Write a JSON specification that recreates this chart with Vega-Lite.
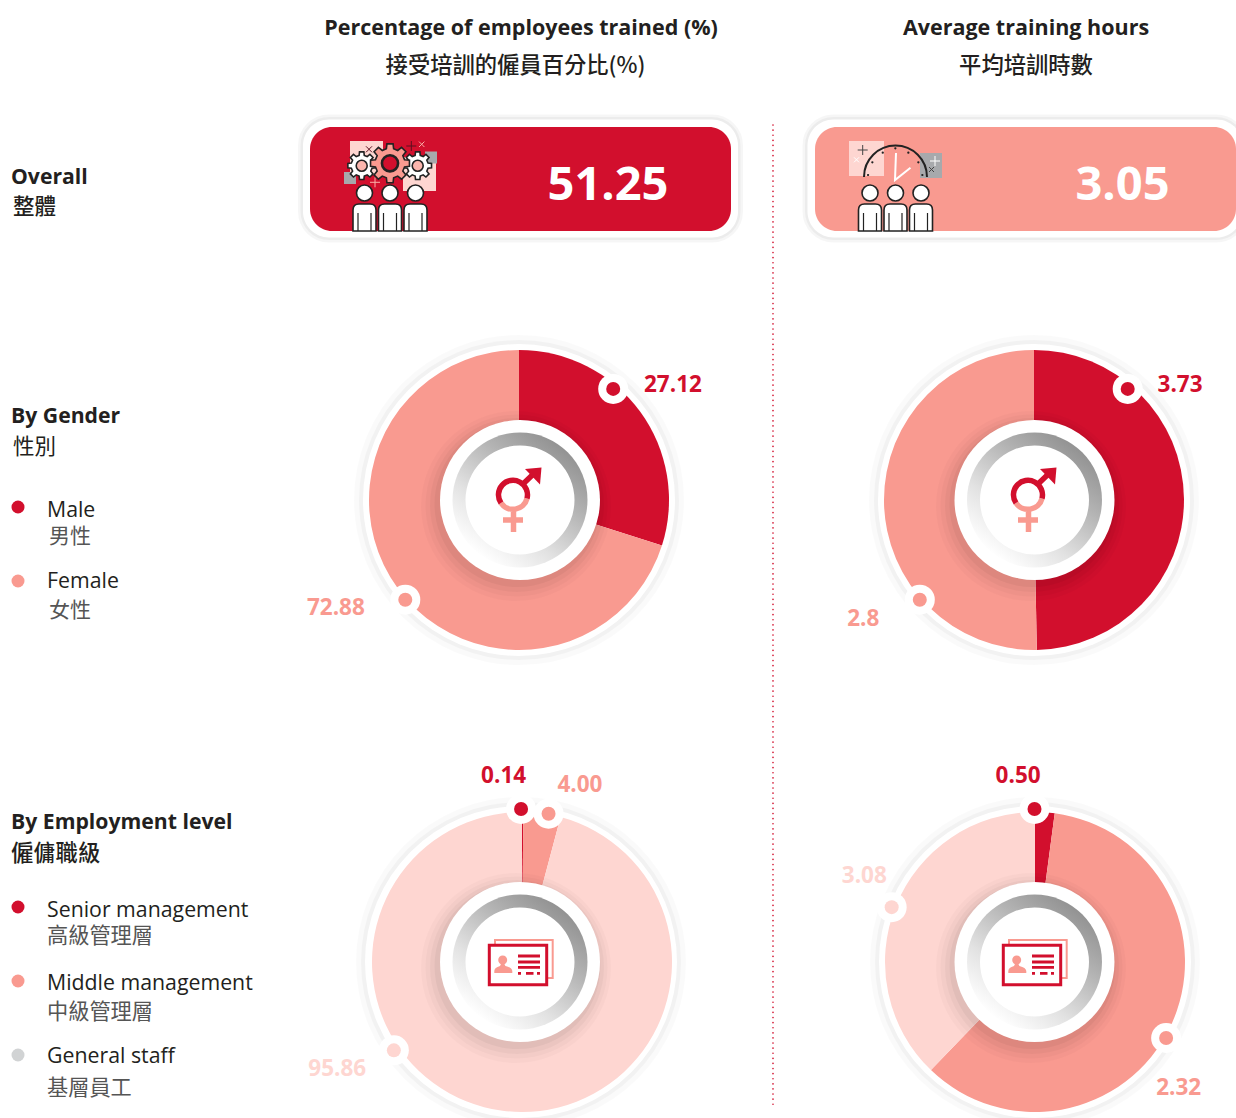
{"$schema":"https://vega.github.io/schema/vega-lite/v6.json","width":1236,"height":1118,"padding":0,"autosize":{"type":"none"},"background":"white","config":{"view":{"stroke":null},"scale":{"pointPadding":0},"point":{"opacity":1},"text":{"font":"Open Sans, Noto Sans CJK TC"}},
"datasets":{
"segments":[
{"metric":"trained","breakdown":"By Gender","segment":"Male","value":"27.12","share":29.9,"rank":1,"pinAngle":40,"pinReach":145,"labelAngle":52.8,"labelReach":192},
{"metric":"trained","breakdown":"By Gender","segment":"Female","value":"72.88","share":70.1,"rank":2,"pinAngle":229,"pinReach":152,"labelAngle":239.8,"labelReach":213},
{"metric":"hours","breakdown":"By Gender","segment":"Male","value":"3.73","share":49.7,"rank":1,"pinAngle":40,"pinReach":145,"labelAngle":51.5,"labelReach":186},
{"metric":"hours","breakdown":"By Gender","segment":"Female","value":"2.8","share":50.3,"rank":2,"pinAngle":229,"pinReach":152,"labelAngle":235.4,"labelReach":208},
{"metric":"trained","breakdown":"By Employment level","segment":"Senior management","value":"0.14","share":0.14,"rank":1,"pinAngle":0.4,"pinReach":153,"labelAngle":355,"labelReach":188},
{"metric":"trained","breakdown":"By Employment level","segment":"Middle management","value":"4.00","share":4.0,"rank":2,"pinAngle":10.9,"pinReach":151,"labelAngle":18.6,"labelReach":188},
{"metric":"trained","breakdown":"By Employment level","segment":"General staff","value":"95.86","share":95.86,"rank":3,"pinAngle":235,"pinReach":154,"labelAngle":240,"labelReach":211},
{"metric":"hours","breakdown":"By Employment level","segment":"Senior management","value":"0.50","share":2.1,"rank":1,"pinAngle":0,"pinReach":153,"labelAngle":355,"labelReach":188},
{"metric":"hours","breakdown":"By Employment level","segment":"Middle management","value":"2.32","share":60.1,"rank":2,"pinAngle":120,"pinReach":152,"labelAngle":131,"labelReach":191},
{"metric":"hours","breakdown":"By Employment level","segment":"General staff","value":"3.08","share":37.8,"rank":3,"pinAngle":291,"pinReach":153,"labelAngle":297,"labelReach":191}],
"hubs":[{"metric":"trained","breakdown":"By Gender"},{"metric":"hours","breakdown":"By Gender"},{"metric":"trained","breakdown":"By Employment level"},{"metric":"hours","breakdown":"By Employment level"}],
"overall":[{"metric":"trained","value":"51.25"},{"metric":"hours","value":"3.05"}],
"legendGender":[{"block":"gender","segment":"Male","zh":"男性"},{"block":"gender","segment":"Female","zh":"女性"}],
"legendLevel":[{"block":"level","segment":"Senior management","zh":"高級管理層"},{"block":"level","segment":"Middle management","zh":"中級管理層"},{"block":"level","segment":"General staff","zh":"基層員工"}]
},
"resolve":{"scale":{"x":"independent","y":"independent","fill":"independent"}},
"layer":[
{"data":{"values":[{"divider":"columns"}]},"mark":{"type":"point","filled":false,"shape":"M0,-491V491","stroke":"#d20f2d","strokeWidth":1.6,"strokeDash":[0.1,5],"strokeCap":"round","size":4},"encoding":{"x":{"field":"divider","type":"nominal","axis":null,"scale":{"type":"point","range":[773,773]}},"y":{"field":"divider","type":"nominal","axis":null,"scale":{"type":"point","range":[616,616]}}}},

{"data":{"name":"overall"},"mark":{"type":"point","filled":false,"shape":"M-191.5,-59H191.5A26,26 0 0 1 217.5,-33V33A26,26 0 0 1 191.5,59H-191.5A26,26 0 0 1 -217.5,33V-33A26,26 0 0 1 -191.5,-59Z","stroke":"#000","strokeOpacity":0.035,"strokeWidth":10,"size":4},"encoding":{"x":{"field":"metric","type":"nominal","axis":null,"scale":{"type":"point","domain":["trained","hours"],"range":[520.5,1025]}},"y":{"field":"metric","type":"nominal","axis":null,"scale":{"type":"point","range":[178.5,178.5]}}}},
{"data":{"name":"overall"},"mark":{"type":"point","filled":false,"shape":"M-191.5,-59H191.5A26,26 0 0 1 217.5,-33V33A26,26 0 0 1 191.5,59H-191.5A26,26 0 0 1 -217.5,33V-33A26,26 0 0 1 -191.5,-59Z","stroke":"#000","strokeOpacity":0.04,"strokeWidth":5,"size":4},"encoding":{"x":{"field":"metric","type":"nominal","axis":null,"scale":{"type":"point","domain":["trained","hours"],"range":[520.5,1025]}},"y":{"field":"metric","type":"nominal","axis":null,"scale":{"type":"point","range":[178.5,178.5]}}}},
{"data":{"name":"overall"},"mark":{"type":"point","filled":true,"shape":"M-191.5,-59H191.5A26,26 0 0 1 217.5,-33V33A26,26 0 0 1 191.5,59H-191.5A26,26 0 0 1 -217.5,33V-33A26,26 0 0 1 -191.5,-59Z","fill":"white","size":4},"encoding":{"x":{"field":"metric","type":"nominal","axis":null,"scale":{"type":"point","domain":["trained","hours"],"range":[520.5,1025]}},"y":{"field":"metric","type":"nominal","axis":null,"scale":{"type":"point","range":[178.5,178.5]}}}},
{"data":{"name":"overall"},"mark":{"type":"point","filled":true,"shape":"M-188.5,-52H188.5A22,22 0 0 1 210.5,-30V30A22,22 0 0 1 188.5,52H-188.5A22,22 0 0 1 -210.5,30V-30A22,22 0 0 1 -188.5,-52Z","size":4},"encoding":{"x":{"field":"metric","type":"nominal","axis":null,"scale":{"type":"point","domain":["trained","hours"],"range":[520.5,1025.5]}},"y":{"field":"metric","type":"nominal","axis":null,"scale":{"type":"point","range":[179,179]}},"fill":{"field":"metric","type":"nominal","legend":null,"scale":{"domain":["trained","hours"],"range":["#d20f2d","#f99a90"]}}}},
{"data":{"name":"overall"},"mark":{"type":"text","fontWeight":"bold","fontSize":47,"fill":"white","baseline":"middle"},"encoding":{"x":{"field":"metric","type":"nominal","axis":null,"scale":{"type":"point","domain":["trained","hours"],"range":[608,1122.5]}},"y":{"field":"metric","type":"nominal","axis":null,"scale":{"type":"point","range":[185.5,185.5]}},"text":{"field":"value"}}},

{"data":{"values":[{"metric":"trained"}]},"mark":{"type":"point","filled":true,"shape":"M-40,-52H-7V-18H-40ZM13,-36H46V-2H13Z","fill":"#fed6d1","size":4},"encoding":{"x":{"field":"metric","type":"nominal","axis":null,"scale":{"type":"point","domain":["trained","hours"],"range":[390,895.5]}},"y":{"field":"metric","type":"nominal","axis":null,"scale":{"type":"point","range":[193,193]}}}},
{"data":{"values":[{"metric":"trained"}]},"mark":{"type":"point","filled":true,"shape":"M-46,-21H-34V-9H-46ZM35,-41.5H47V-29.5H35Z","fill":"#a7a9ac","size":4},"encoding":{"x":{"field":"metric","type":"nominal","axis":null,"scale":{"type":"point","domain":["trained","hours"],"range":[390,895.5]}},"y":{"field":"metric","type":"nominal","axis":null,"scale":{"type":"point","range":[193,193]}}}},
{"data":{"values":[{"metric":"trained"}]},"mark":{"type":"point","filled":false,"shape":"M21.3,-52V-42M16.3,-47H26.3M-24,-46.7L-18,-40.7M-18,-46.7L-24,-40.7","stroke":"#5a1020","strokeWidth":1,"size":4},"encoding":{"x":{"field":"metric","type":"nominal","axis":null,"scale":{"type":"point","domain":["trained","hours"],"range":[390,895.5]}},"y":{"field":"metric","type":"nominal","axis":null,"scale":{"type":"point","range":[193,193]}}}},
{"data":{"values":[{"metric":"trained"}]},"mark":{"type":"point","filled":false,"shape":"M29,-51.4L34.4,-46M34.4,-51.4L29,-46M-15,-15.7V-5.7M-20,-10.7H-10","stroke":"#f9b0a8","strokeWidth":1,"size":4},"encoding":{"x":{"field":"metric","type":"nominal","axis":null,"scale":{"type":"point","domain":["trained","hours"],"range":[390,895.5]}},"y":{"field":"metric","type":"nominal","axis":null,"scale":{"type":"point","range":[193,193]}}}},
{"data":{"values":[{"gear":"left"},{"gear":"right"}]},"mark":{"type":"point","filled":true,"shape":"M-0.156,-0.988L0.156,-0.988L0.184,-0.737L0.391,-0.651L0.588,-0.809L0.809,-0.588L0.651,-0.391L0.737,-0.184L0.988,-0.156L0.988,0.156L0.737,0.184L0.651,0.391L0.809,0.588L0.588,0.809L0.391,0.651L0.184,0.737L0.156,0.988L-0.156,0.988L-0.184,0.737L-0.391,0.651L-0.588,0.809L-0.809,0.588L-0.651,0.391L-0.737,0.184L-0.988,0.156L-0.988,-0.156L-0.737,-0.184L-0.651,-0.391L-0.809,-0.588L-0.588,-0.809L-0.391,-0.651L-0.184,-0.737Z","fill":"white","stroke":"#222","strokeWidth":1.6,"size":784},"encoding":{"x":{"field":"gear","type":"nominal","axis":null,"scale":{"type":"point","domain":["left","right"],"range":[361.7,417.7]}},"y":{"field":"gear","type":"nominal","axis":null,"scale":{"type":"point","range":[165.7,165.7]}}}},
{"data":{"values":[{"gear":"left"},{"gear":"right"}]},"mark":{"type":"point","filled":true,"shape":"circle","fill":"#fbb5ad","stroke":"#222","strokeWidth":1.6,"size":121},"encoding":{"x":{"field":"gear","type":"nominal","axis":null,"scale":{"type":"point","domain":["left","right"],"range":[361.7,417.7]}},"y":{"field":"gear","type":"nominal","axis":null,"scale":{"type":"point","range":[165.7,165.7]}}}},
{"data":{"values":[{"gear":"big"}]},"mark":{"type":"point","filled":true,"shape":"M-0.156,-0.988L0.156,-0.988L0.184,-0.737L0.391,-0.651L0.588,-0.809L0.809,-0.588L0.651,-0.391L0.737,-0.184L0.988,-0.156L0.988,0.156L0.737,0.184L0.651,0.391L0.809,0.588L0.588,0.809L0.391,0.651L0.184,0.737L0.156,0.988L-0.156,0.988L-0.184,0.737L-0.391,0.651L-0.588,0.809L-0.809,0.588L-0.651,0.391L-0.737,0.184L-0.988,0.156L-0.988,-0.156L-0.737,-0.184L-0.651,-0.391L-0.809,-0.588L-0.588,-0.809L-0.391,-0.651L-0.184,-0.737Z","fill":"#f99a90","stroke":"#222","strokeWidth":1.6,"size":1552},"encoding":{"x":{"field":"gear","type":"nominal","axis":null,"scale":{"type":"point","range":[390,390]}},"y":{"field":"gear","type":"nominal","axis":null,"scale":{"type":"point","range":[163.3,163.3]}}}},
{"data":{"values":[{"gear":"big"}]},"mark":{"type":"point","filled":true,"shape":"circle","fill":"#d20f2d","stroke":"#222","strokeWidth":2.6,"size":260},"encoding":{"x":{"field":"gear","type":"nominal","axis":null,"scale":{"type":"point","range":[390,390]}},"y":{"field":"gear","type":"nominal","axis":null,"scale":{"type":"point","range":[163.3,163.3]}}}},

{"data":{"values":[{"metric":"hours"}]},"mark":{"type":"point","filled":true,"shape":"M-46.5,-52H-11.5V-17H-46.5Z","fill":"#fed6d1","size":4},"encoding":{"x":{"field":"metric","type":"nominal","axis":null,"scale":{"type":"point","domain":["trained","hours"],"range":[390,895.5]}},"y":{"field":"metric","type":"nominal","axis":null,"scale":{"type":"point","range":[193,193]}}}},
{"data":{"values":[{"metric":"hours"}]},"mark":{"type":"point","filled":true,"shape":"M24.5,-40H46.5V-15H24.5Z","fill":"#a7a9ac","size":4},"encoding":{"x":{"field":"metric","type":"nominal","axis":null,"scale":{"type":"point","domain":["trained","hours"],"range":[390,895.5]}},"y":{"field":"metric","type":"nominal","axis":null,"scale":{"type":"point","range":[193,193]}}}},
{"data":{"values":[{"metric":"hours"}]},"mark":{"type":"point","filled":false,"shape":"M-31.5,-16A31.5,31.5 0 0 1 31.5,-16","stroke":"#222","strokeWidth":2,"size":4},"encoding":{"x":{"field":"metric","type":"nominal","axis":null,"scale":{"type":"point","domain":["trained","hours"],"range":[390,895.5]}},"y":{"field":"metric","type":"nominal","axis":null,"scale":{"type":"point","range":[193,193]}}}},
{"data":{"values":[{"metric":"hours"}]},"mark":{"type":"point","filled":false,"shape":"M-27.5,-18h0.1M-23.2,-30.7h0.1M-12.8,-40.3h0.1M-0.2,-44.7h0.1M12.8,-40.3h0.1M22.8,-30.7h0.1M26.8,-18h0.1","stroke":"#222","strokeWidth":2.2,"strokeCap":"round","size":4},"encoding":{"x":{"field":"metric","type":"nominal","axis":null,"scale":{"type":"point","domain":["trained","hours"],"range":[390,895.5]}},"y":{"field":"metric","type":"nominal","axis":null,"scale":{"type":"point","range":[193,193]}}}},
{"data":{"values":[{"metric":"hours"}]},"mark":{"type":"point","filled":false,"shape":"M-32.8,-48V-38M-37.8,-43H-27.8M33.5,-26L38.5,-21M38.5,-26L33.5,-21","stroke":"#444","strokeWidth":1,"size":4},"encoding":{"x":{"field":"metric","type":"nominal","axis":null,"scale":{"type":"point","domain":["trained","hours"],"range":[390,895.5]}},"y":{"field":"metric","type":"nominal","axis":null,"scale":{"type":"point","range":[193,193]}}}},
{"data":{"values":[{"metric":"hours"}]},"mark":{"type":"point","filled":false,"shape":"M39.5,-37V-27M34.5,-32H44.5M-41.5,-35.7L-36.5,-30.7M-36.5,-35.7L-41.5,-30.7","stroke":"white","strokeWidth":1,"size":4},"encoding":{"x":{"field":"metric","type":"nominal","axis":null,"scale":{"type":"point","domain":["trained","hours"],"range":[390,895.5]}},"y":{"field":"metric","type":"nominal","axis":null,"scale":{"type":"point","range":[193,193]}}}},
{"data":{"values":[{"metric":"hours"}]},"mark":{"type":"point","filled":false,"shape":"M0.5,-40L-0.5,-13L15,-25.3","stroke":"white","strokeWidth":2,"size":4},"encoding":{"x":{"field":"metric","type":"nominal","axis":null,"scale":{"type":"point","domain":["trained","hours"],"range":[390,895.5]}},"y":{"field":"metric","type":"nominal","axis":null,"scale":{"type":"point","range":[193,193]}}}},

{"data":{"name":"overall"},"mark":{"type":"point","filled":true,"shape":"M-33.5,0A8,8 0 1 1 -17.5,0A8,8 0 1 1 -33.5,0ZM-8,0A8,8 0 1 1 8,0A8,8 0 1 1 -8,0ZM17.5,0A8,8 0 1 1 33.5,0A8,8 0 1 1 17.5,0ZM-37,38V17Q-37,11 -31,11H-20Q-14,11 -14,17V38ZM-11.5,38V17Q-11.5,11 -5.5,11H5.5Q11.5,11 11.5,17V38ZM14,38V17Q14,11 20,11H31Q37,11 37,17V38Z","fill":"white","stroke":"#222","strokeWidth":1.6,"size":4},"encoding":{"x":{"field":"metric","type":"nominal","axis":null,"scale":{"type":"point","domain":["trained","hours"],"range":[390,895.5]}},"y":{"field":"metric","type":"nominal","axis":null,"scale":{"type":"point","range":[193,193]}}}},
{"data":{"name":"overall"},"mark":{"type":"point","filled":false,"shape":"M-32,20V38M-19,20V38M-6.5,20V38M6.5,20V38M19,20V38M32,20V38","stroke":"#222","strokeWidth":1.2,"size":4},"encoding":{"x":{"field":"metric","type":"nominal","axis":null,"scale":{"type":"point","domain":["trained","hours"],"range":[390,895.5]}},"y":{"field":"metric","type":"nominal","axis":null,"scale":{"type":"point","range":[193,193]}}}},

{"data":{"name":"hubs"},"transform":[{"filter":"datum.breakdown==='By Gender'"}],"mark":{"type":"point","filled":true,"shape":"circle","fill":"#000","fillOpacity":0.02,"size":108900},"encoding":{"x":{"field":"metric","type":"nominal","axis":null,"scale":{"type":"point","domain":["trained","hours"],"range":[519,1034]}},"y":{"field":"breakdown","type":"nominal","axis":null,"scale":{"type":"point","range":[500,500]}}}},
{"data":{"name":"hubs"},"transform":[{"filter":"datum.breakdown==='By Gender'"}],"mark":{"type":"point","filled":true,"shape":"circle","fill":"#000","fillOpacity":0.03,"size":102400},"encoding":{"x":{"field":"metric","type":"nominal","axis":null,"scale":{"type":"point","domain":["trained","hours"],"range":[519,1034]}},"y":{"field":"breakdown","type":"nominal","axis":null,"scale":{"type":"point","range":[500,500]}}}},
{"data":{"name":"hubs"},"transform":[{"filter":"datum.breakdown==='By Gender'"}],"mark":{"type":"point","filled":true,"shape":"circle","fill":"white","size":97344},"encoding":{"x":{"field":"metric","type":"nominal","axis":null,"scale":{"type":"point","domain":["trained","hours"],"range":[519,1034]}},"y":{"field":"breakdown","type":"nominal","axis":null,"scale":{"type":"point","range":[500,500]}}}},
{"data":{"name":"hubs"},"transform":[{"filter":"datum.breakdown==='By Employment level'"}],"mark":{"type":"point","filled":true,"shape":"circle","fill":"#000","fillOpacity":0.02,"size":108900},"encoding":{"x":{"field":"metric","type":"nominal","axis":null,"scale":{"type":"point","domain":["trained","hours"],"range":[521,1035]}},"y":{"field":"breakdown","type":"nominal","axis":null,"scale":{"type":"point","range":[962,962]}}}},
{"data":{"name":"hubs"},"transform":[{"filter":"datum.breakdown==='By Employment level'"}],"mark":{"type":"point","filled":true,"shape":"circle","fill":"#000","fillOpacity":0.03,"size":102400},"encoding":{"x":{"field":"metric","type":"nominal","axis":null,"scale":{"type":"point","domain":["trained","hours"],"range":[521,1035]}},"y":{"field":"breakdown","type":"nominal","axis":null,"scale":{"type":"point","range":[962,962]}}}},
{"data":{"name":"hubs"},"transform":[{"filter":"datum.breakdown==='By Employment level'"}],"mark":{"type":"point","filled":true,"shape":"circle","fill":"white","size":97344},"encoding":{"x":{"field":"metric","type":"nominal","axis":null,"scale":{"type":"point","domain":["trained","hours"],"range":[521,1035]}},"y":{"field":"breakdown","type":"nominal","axis":null,"scale":{"type":"point","range":[962,962]}}}},

{"data":{"name":"segments"},"transform":[{"filter":"datum.breakdown==='By Gender'"},{"stack":"share","groupby":["metric","breakdown"],"sort":[{"field":"rank","order":"ascending"}],"offset":"normalize","as":["t0","t1"]}],"mark":{"type":"arc","radius":150,"radius2":0},"encoding":{"x":{"field":"metric","type":"nominal","axis":null,"scale":{"type":"point","domain":["trained","hours"],"range":[519,1034]}},"y":{"field":"breakdown","type":"nominal","axis":null,"scale":{"type":"point","range":[500,500]}},"theta":{"field":"t0","type":"quantitative","scale":{"domain":[0,1],"range":[0,6.28319]}},"theta2":{"field":"t1"},"color":{"field":"segment","type":"nominal","legend":null,"scale":{"domain":["Male","Female","Senior management","Middle management","General staff"],"range":["#d20f2d","#f99a90","#d20f2d","#f99a90","#fed6d1"]}}}},
{"data":{"name":"segments"},"transform":[{"filter":"datum.breakdown==='By Employment level'"},{"stack":"share","groupby":["metric","breakdown"],"sort":[{"field":"rank","order":"ascending"}],"offset":"normalize","as":["t0","t1"]}],"mark":{"type":"arc","radius":150,"radius2":0},"encoding":{"x":{"field":"metric","type":"nominal","axis":null,"scale":{"type":"point","domain":["trained","hours"],"range":[522,1035]}},"y":{"field":"breakdown","type":"nominal","axis":null,"scale":{"type":"point","range":[962,962]}},"theta":{"field":"t0","type":"quantitative","scale":{"domain":[0,1],"range":[0,6.28319]}},"theta2":{"field":"t1"},"color":{"field":"segment","type":"nominal","legend":null,"scale":{"domain":["Male","Female","Senior management","Middle management","General staff"],"range":["#d20f2d","#f99a90","#d20f2d","#f99a90","#fed6d1"]}}}},

{"data":{"name":"hubs"},"mark":{"type":"point","filled":true,"shape":"circle","fill":"#000","fillOpacity":0.02,"size":36100},"encoding":{"x":{"field":"metric","type":"nominal","axis":null,"scale":{"type":"point","domain":["trained","hours"],"range":[516,1031]}},"y":{"field":"breakdown","type":"nominal","axis":null,"scale":{"type":"point","domain":["By Gender","By Employment level"],"range":[506,968]}}}},
{"data":{"name":"hubs"},"mark":{"type":"point","filled":true,"shape":"circle","fill":"#000","fillOpacity":0.025,"size":33124},"encoding":{"x":{"field":"metric","type":"nominal","axis":null,"scale":{"type":"point","domain":["trained","hours"],"range":[516.5,1031.5]}},"y":{"field":"breakdown","type":"nominal","axis":null,"scale":{"type":"point","domain":["By Gender","By Employment level"],"range":[505.5,967.5]}}}},
{"data":{"name":"hubs"},"mark":{"type":"point","filled":true,"shape":"circle","fill":"#000","fillOpacity":0.03,"size":30276},"encoding":{"x":{"field":"metric","type":"nominal","axis":null,"scale":{"type":"point","domain":["trained","hours"],"range":[517,1032]}},"y":{"field":"breakdown","type":"nominal","axis":null,"scale":{"type":"point","domain":["By Gender","By Employment level"],"range":[505,967]}}}},
{"data":{"name":"hubs"},"mark":{"type":"point","filled":true,"shape":"circle","fill":"#000","fillOpacity":0.04,"size":27556},"encoding":{"x":{"field":"metric","type":"nominal","axis":null,"scale":{"type":"point","domain":["trained","hours"],"range":[517.5,1032.5]}},"y":{"field":"breakdown","type":"nominal","axis":null,"scale":{"type":"point","domain":["By Gender","By Employment level"],"range":[504,966]}}}},
{"data":{"name":"hubs"},"mark":{"type":"point","filled":true,"shape":"circle","fill":"white","size":25600},"encoding":{"x":{"field":"metric","type":"nominal","axis":null,"scale":{"type":"point","domain":["trained","hours"],"range":[520,1034.5]}},"y":{"field":"breakdown","type":"nominal","axis":null,"scale":{"type":"point","domain":["By Gender","By Employment level"],"range":[500,962]}}}},
{"data":{"name":"hubs"},"mark":{"type":"point","filled":true,"shape":"circle","size":18225,"fill":{"gradient":"linear","x1":0.9,"y1":0.1,"x2":0.25,"y2":0.95,"stops":[{"offset":0,"color":"#8c8c8c"},{"offset":0.35,"color":"#b4b4b4"},{"offset":0.7,"color":"#e2e2e2"},{"offset":1,"color":"#ffffff"}]}},"encoding":{"x":{"field":"metric","type":"nominal","axis":null,"scale":{"type":"point","domain":["trained","hours"],"range":[520,1034.5]}},"y":{"field":"breakdown","type":"nominal","axis":null,"scale":{"type":"point","domain":["By Gender","By Employment level"],"range":[500,962]}}}},
{"data":{"name":"hubs"},"mark":{"type":"point","filled":true,"shape":"circle","fill":"white","size":11881},"encoding":{"x":{"field":"metric","type":"nominal","axis":null,"scale":{"type":"point","domain":["trained","hours"],"range":[520,1034.5]}},"y":{"field":"breakdown","type":"nominal","axis":null,"scale":{"type":"point","domain":["By Gender","By Employment level"],"range":[500,962]}}}},

{"data":{"name":"hubs"},"transform":[{"filter":"datum.breakdown==='By Gender'"}],"mark":{"type":"point","filled":false,"shape":"M7.5,-1.5A14.5,14.5 0 0 1 -18.5,3M-6,10V32M-16.5,20H3.5","stroke":"#f99a90","strokeWidth":5.5,"size":4},"encoding":{"x":{"field":"metric","type":"nominal","axis":null,"scale":{"type":"point","domain":["trained","hours"],"range":[519.5,1034.5]}},"y":{"field":"breakdown","type":"nominal","axis":null,"scale":{"type":"point","domain":["By Gender","By Employment level"],"range":[500,962]}}}},
{"data":{"name":"hubs"},"transform":[{"filter":"datum.breakdown==='By Gender'"}],"mark":{"type":"point","filled":false,"shape":"M-18.5,3A14.5,14.5 0 1 1 7.5,-1.5M3.5,-16L16,-28","stroke":"#d20f2d","strokeWidth":5.5,"size":4},"encoding":{"x":{"field":"metric","type":"nominal","axis":null,"scale":{"type":"point","domain":["trained","hours"],"range":[519.5,1034.5]}},"y":{"field":"breakdown","type":"nominal","axis":null,"scale":{"type":"point","domain":["By Gender","By Employment level"],"range":[500,962]}}}},
{"data":{"name":"hubs"},"transform":[{"filter":"datum.breakdown==='By Gender'"}],"mark":{"type":"point","filled":true,"shape":"M5.5,-31L22,-32.5L20.5,-15.5Z","fill":"#d20f2d","size":4},"encoding":{"x":{"field":"metric","type":"nominal","axis":null,"scale":{"type":"point","domain":["trained","hours"],"range":[519.5,1034.5]}},"y":{"field":"breakdown","type":"nominal","axis":null,"scale":{"type":"point","domain":["By Gender","By Employment level"],"range":[500,962]}}}},

{"data":{"name":"hubs"},"transform":[{"filter":"datum.breakdown==='By Employment level'"}],"mark":{"type":"point","filled":false,"shape":"M-26,-22H31.7V16H-26Z","stroke":"#f99a90","strokeWidth":2,"size":4},"encoding":{"x":{"field":"metric","type":"nominal","axis":null,"scale":{"type":"point","domain":["trained","hours"],"range":[521,1035]}},"y":{"field":"breakdown","type":"nominal","axis":null,"scale":{"type":"point","domain":["By Gender","By Employment level"],"range":[500,962]}}}},
{"data":{"name":"hubs"},"transform":[{"filter":"datum.breakdown==='By Employment level'"}],"mark":{"type":"point","filled":true,"shape":"M-31.7,-16.7H25.7V22.7H-31.7Z","fill":"white","stroke":"#d20f2d","strokeWidth":3,"size":4},"encoding":{"x":{"field":"metric","type":"nominal","axis":null,"scale":{"type":"point","domain":["trained","hours"],"range":[521,1035]}},"y":{"field":"breakdown","type":"nominal","axis":null,"scale":{"type":"point","domain":["By Gender","By Employment level"],"range":[500,962]}}}},
{"data":{"name":"hubs"},"transform":[{"filter":"datum.breakdown==='By Employment level'"}],"mark":{"type":"point","filled":true,"shape":"M-22.8,-2A4.5,4.5 0 1 1 -13.8,-2A4.5,4.5 0 1 1 -22.8,-2ZM-26.7,11V9Q-26.7,5.5 -21,4L-20,2H-16.6L-15.6,4Q-9,5.5 -8.7,9V11Z","fill":"#f99a90","size":4},"encoding":{"x":{"field":"metric","type":"nominal","axis":null,"scale":{"type":"point","domain":["trained","hours"],"range":[521,1035]}},"y":{"field":"breakdown","type":"nominal","axis":null,"scale":{"type":"point","domain":["By Gender","By Employment level"],"range":[500,962]}}}},
{"data":{"name":"hubs"},"transform":[{"filter":"datum.breakdown==='By Employment level'"}],"mark":{"type":"point","filled":false,"shape":"M-3,-6H19M-3,0H19M-3,5.3H19M-3,11.3H0M5,11.3H12.5M16,11.3H19","stroke":"#d20f2d","strokeWidth":2.8,"size":4},"encoding":{"x":{"field":"metric","type":"nominal","axis":null,"scale":{"type":"point","domain":["trained","hours"],"range":[521,1035]}},"y":{"field":"breakdown","type":"nominal","axis":null,"scale":{"type":"point","domain":["By Gender","By Employment level"],"range":[500,962]}}}},

{"data":{"name":"segments"},"transform":[{"calculate":"datum.pinReach*sin(datum.pinAngle*PI/180)","as":"pinX"},{"calculate":"-datum.pinReach*cos(datum.pinAngle*PI/180)","as":"pinY"}],"mark":{"type":"point","filled":true,"shape":"circle","fill":"white","size":900},"encoding":{"x":{"field":"metric","type":"nominal","axis":null,"scale":{"type":"point","domain":["trained","hours"],"range":[520,1034.5]}},"y":{"field":"breakdown","type":"nominal","axis":null,"scale":{"type":"point","domain":["By Gender","By Employment level"],"range":[500,962]}},"xOffset":{"field":"pinX","type":"quantitative","scale":{"domain":[-300,300],"range":[-300,300]}},"yOffset":{"field":"pinY","type":"quantitative","scale":{"domain":[-300,300],"range":[-300,300]}}}},
{"data":{"name":"segments"},"transform":[{"calculate":"datum.pinReach*sin(datum.pinAngle*PI/180)","as":"pinX"},{"calculate":"-datum.pinReach*cos(datum.pinAngle*PI/180)","as":"pinY"}],"mark":{"type":"point","filled":true,"shape":"circle","size":196},"encoding":{"x":{"field":"metric","type":"nominal","axis":null,"scale":{"type":"point","domain":["trained","hours"],"range":[520,1034.5]}},"y":{"field":"breakdown","type":"nominal","axis":null,"scale":{"type":"point","domain":["By Gender","By Employment level"],"range":[500,962]}},"xOffset":{"field":"pinX","type":"quantitative","scale":{"domain":[-300,300],"range":[-300,300]}},"yOffset":{"field":"pinY","type":"quantitative","scale":{"domain":[-300,300],"range":[-300,300]}},"color":{"field":"segment","type":"nominal","legend":null,"scale":{"domain":["Male","Female","Senior management","Middle management","General staff"],"range":["#d20f2d","#f99a90","#d20f2d","#f99a90","#fed6d1"]}}}},
{"data":{"name":"segments"},"transform":[{"calculate":"datum.labelReach*sin(datum.labelAngle*PI/180)","as":"labelX"},{"calculate":"-datum.labelReach*cos(datum.labelAngle*PI/180)","as":"labelY"}],"mark":{"type":"text","fontWeight":"bold","fontSize":22.5,"baseline":"middle","align":"center","dy":1},"encoding":{"x":{"field":"metric","type":"nominal","axis":null,"scale":{"type":"point","domain":["trained","hours"],"range":[520,1034.5]}},"y":{"field":"breakdown","type":"nominal","axis":null,"scale":{"type":"point","domain":["By Gender","By Employment level"],"range":[500,962]}},"xOffset":{"field":"labelX","type":"quantitative","scale":{"domain":[-300,300],"range":[-300,300]}},"yOffset":{"field":"labelY","type":"quantitative","scale":{"domain":[-300,300],"range":[-300,300]}},"text":{"field":"value"},"color":{"field":"segment","type":"nominal","legend":null,"scale":{"domain":["Male","Female","Senior management","Middle management","General staff"],"range":["#d20f2d","#f99a90","#d20f2d","#f99a90","#fed6d1"]}}}},

{"data":{"values":[{"metric":"trained","title":"Percentage of employees trained (%)"},{"metric":"hours","title":"Average training hours"}]},"mark":{"type":"text","fontWeight":"bold","fontSize":21.5,"fill":"#231f20","baseline":"middle"},"encoding":{"x":{"field":"metric","type":"nominal","axis":null,"scale":{"type":"point","domain":["trained","hours"],"range":[521,1026]}},"y":{"field":"metric","type":"nominal","axis":null,"scale":{"type":"point","range":[29,29]}},"text":{"field":"title"}}},
{"data":{"values":[{"metric":"trained","title":"接受培訓的僱員百分比(%)"},{"metric":"hours","title":"平均培訓時數"}]},"mark":{"type":"text","font":"Noto Sans CJK TC","fontWeight":500,"fontSize":22.3,"fill":"#231f20","baseline":"middle"},"encoding":{"x":{"field":"metric","type":"nominal","axis":null,"scale":{"type":"point","domain":["trained","hours"],"range":[515.5,1026]}},"y":{"field":"metric","type":"nominal","axis":null,"scale":{"type":"point","range":[66,66]}},"text":{"field":"title"}}},

{"data":{"values":[{"block":"overall","line":"Overall"}]},"mark":{"type":"text","fontWeight":"bold","fontSize":21.2,"fill":"#231f20","align":"left","baseline":"middle"},"encoding":{"x":{"field":"block","type":"nominal","axis":null,"scale":{"type":"point","range":[11,11]}},"y":{"field":"block","type":"nominal","axis":null,"scale":{"type":"point","range":[178,178]}},"text":{"field":"line"}}},
{"data":{"values":[{"block":"overall","line":"整體"}]},"mark":{"type":"text","font":"Noto Sans CJK TC","fontWeight":500,"fontSize":21.5,"fill":"#231f20","align":"left","baseline":"middle"},"encoding":{"x":{"field":"block","type":"nominal","axis":null,"scale":{"type":"point","range":[13,13]}},"y":{"field":"block","type":"nominal","axis":null,"scale":{"type":"point","range":[208,208]}},"text":{"field":"line"}}},
{"data":{"values":[{"block":"gender","line":"By Gender"}]},"mark":{"type":"text","fontWeight":"bold","fontSize":21.2,"fill":"#231f20","align":"left","baseline":"middle"},"encoding":{"x":{"field":"block","type":"nominal","axis":null,"scale":{"type":"point","range":[11,11]}},"y":{"field":"block","type":"nominal","axis":null,"scale":{"type":"point","range":[417,417]}},"text":{"field":"line"}}},
{"data":{"values":[{"block":"gender","line":"性別"}]},"mark":{"type":"text","font":"Noto Sans CJK TC","fontSize":21.5,"fill":"#231f20","align":"left","baseline":"middle"},"encoding":{"x":{"field":"block","type":"nominal","axis":null,"scale":{"type":"point","range":[13,13]}},"y":{"field":"block","type":"nominal","axis":null,"scale":{"type":"point","range":[448,448]}},"text":{"field":"line"}}},
{"data":{"values":[{"block":"level","line":"By Employment level"}]},"mark":{"type":"text","fontWeight":"bold","fontSize":21.2,"fill":"#231f20","align":"left","baseline":"middle"},"encoding":{"x":{"field":"block","type":"nominal","axis":null,"scale":{"type":"point","range":[11,11]}},"y":{"field":"block","type":"nominal","axis":null,"scale":{"type":"point","range":[823,823]}},"text":{"field":"line"}}},
{"data":{"values":[{"block":"level","line":"僱傭職級"}]},"mark":{"type":"text","font":"Noto Sans CJK TC","fontWeight":500,"fontSize":22.3,"fill":"#231f20","align":"left","baseline":"middle"},"encoding":{"x":{"field":"block","type":"nominal","axis":null,"scale":{"type":"point","range":[11,11]}},"y":{"field":"block","type":"nominal","axis":null,"scale":{"type":"point","range":[854,854]}},"text":{"field":"line"}}},

{"data":{"name":"legendGender"},"mark":{"type":"point","filled":true,"shape":"circle","size":169},"encoding":{"x":{"field":"block","type":"nominal","axis":null,"scale":{"type":"point","range":[18,18]}},"y":{"field":"segment","type":"nominal","axis":null,"scale":{"type":"point","domain":["Male","Female"],"range":[507,581]}},"fill":{"field":"segment","type":"nominal","legend":null,"scale":{"domain":["Male","Female"],"range":["#d20f2d","#f99a90"]}}}},
{"data":{"name":"legendGender"},"mark":{"type":"text","fontSize":21.3,"fill":"#231f20","align":"left","baseline":"middle"},"encoding":{"x":{"field":"block","type":"nominal","axis":null,"scale":{"type":"point","range":[47,47]}},"y":{"field":"segment","type":"nominal","axis":null,"scale":{"type":"point","domain":["Male","Female"],"range":[511,582]}},"text":{"field":"segment"}}},
{"data":{"name":"legendGender"},"mark":{"type":"text","font":"Noto Sans CJK TC","fontSize":21,"fill":"#555555","align":"left","baseline":"middle"},"encoding":{"x":{"field":"block","type":"nominal","axis":null,"scale":{"type":"point","range":[49,49]}},"y":{"field":"segment","type":"nominal","axis":null,"scale":{"type":"point","domain":["Male","Female"],"range":[537,611]}},"text":{"field":"zh"}}},
{"data":{"name":"legendLevel"},"mark":{"type":"point","filled":true,"shape":"circle","size":169},"encoding":{"x":{"field":"block","type":"nominal","axis":null,"scale":{"type":"point","range":[18,18]}},"y":{"field":"segment","type":"nominal","axis":null,"scale":{"type":"point","domain":["Senior management","Middle management","General staff"],"range":[907,1055]}},"fill":{"field":"segment","type":"nominal","legend":null,"scale":{"domain":["Senior management","Middle management","General staff"],"range":["#d20f2d","#f99a90","#d1d3d4"]}}}},
{"data":{"name":"legendLevel"},"mark":{"type":"text","fontSize":21.3,"fill":"#231f20","align":"left","baseline":"middle"},"encoding":{"x":{"field":"block","type":"nominal","axis":null,"scale":{"type":"point","range":[47,47]}},"y":{"field":"segment","type":"nominal","axis":null,"scale":{"type":"point","domain":["Senior management","Middle management","General staff"],"range":[911,1057]}},"text":{"field":"segment"}}},
{"data":{"name":"legendLevel"},"mark":{"type":"text","font":"Noto Sans CJK TC","fontSize":21.2,"fill":"#555555","align":"left","baseline":"middle"},"encoding":{"x":{"field":"block","type":"nominal","axis":null,"scale":{"type":"point","range":[47,47]}},"y":{"field":"segment","type":"nominal","axis":null,"scale":{"type":"point","domain":["Senior management","Middle management","General staff"],"range":[937,1089]}},"text":{"field":"zh"}}}
]}
